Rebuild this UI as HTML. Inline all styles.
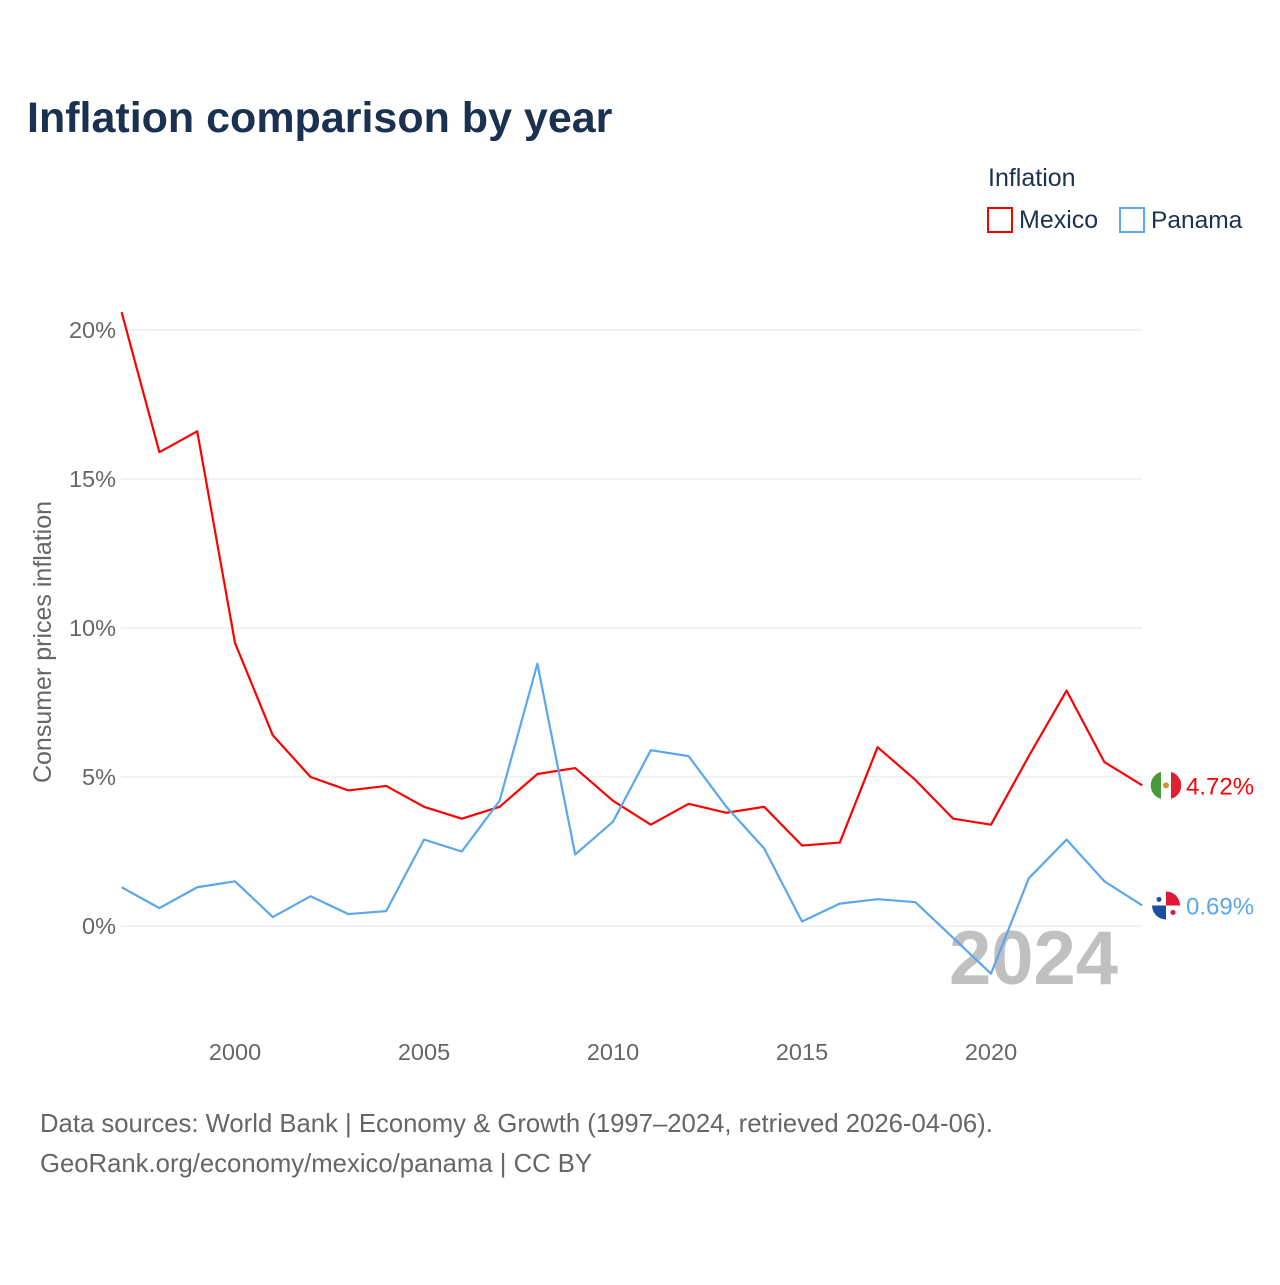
<!DOCTYPE html>
<html><head><meta charset="utf-8"><style>
body{margin:0;background:#fff;font-family:"Liberation Sans",sans-serif;}
svg text{font-family:"Liberation Sans",sans-serif;}
</style></head><body>
<svg width="1280" height="1280" viewBox="0 0 1280 1280" xmlns="http://www.w3.org/2000/svg" id="chart">
<rect width="1280" height="1280" fill="#fff"/>
<text x="27" y="132" font-size="43" font-weight="bold" fill="#1a3150">Inflation comparison by year</text>
<text x="988" y="186" font-size="25" fill="#1a3150">Inflation</text>
<g><rect x="988" y="208" width="24" height="24" fill="none" stroke="#f00" stroke-width="2"/><text x="1019" y="228" font-size="25" fill="#1a3150">Mexico</text></g>
<g><rect x="1120" y="208" width="24" height="24" fill="none" stroke="#5ba7ef" stroke-width="2"/><text x="1151" y="228" font-size="24.5" fill="#1a3150">Panama</text></g>
<g id="grid"></g>
<text x="949" y="984" font-size="76" font-weight="bold" fill="#c0c0c0">2024</text>
<g id="series"></g>
<text transform="translate(51,642) rotate(-90)" text-anchor="middle" font-size="25" fill="#666">Consumer prices inflation</text>
<text x="40" y="1132" font-size="25.7" fill="#666">Data sources: World Bank | Economy &amp; Growth (1997–2024, retrieved 2026-04-06).</text>
<text x="40" y="1172" font-size="25.7" fill="#666">GeoRank.org/economy/mexico/panama | CC BY</text>
</svg>
<script>
const years=[1997,1998,1999,2000,2001,2002,2003,2004,2005,2006,2007,2008,2009,2010,2011,2012,2013,2014,2015,2016,2017,2018,2019,2020,2021,2022,2023,2024];
const mexico=[20.6,15.9,16.6,9.5,6.4,5.0,4.55,4.7,4.0,3.6,4.0,5.1,5.3,4.2,3.4,4.1,3.8,4.0,2.7,2.8,6.0,4.9,3.6,3.4,5.7,7.9,5.5,4.72];
const panama=[1.3,0.6,1.3,1.5,0.3,1.0,0.4,0.5,2.9,2.5,4.2,8.8,2.4,3.5,5.9,5.7,4.0,2.6,0.15,0.75,0.9,0.8,-0.4,-1.6,1.6,2.9,1.5,0.69];
const yTicks=[0,5,10,15,20];
const xTicks=[2000,2005,2010,2015,2020];
const NS="http://www.w3.org/2000/svg";
const x=v=>235+(v-2000)*37.8;
const y=v=>926-v*29.8;
function mk(tag,attrs,parent){const e=document.createElementNS(NS,tag);for(const k in attrs)e.setAttribute(k,attrs[k]);parent.appendChild(e);return e;}
const grid=document.getElementById('grid');
yTicks.forEach(t=>{
 const l=mk('line',{x1:121,x2:1142,y1:y(t),y2:y(t),stroke:'#e6e6e6','stroke-width':1},grid);
 
 
 const tx=mk('text',{x:116,y:y(t)+8,'text-anchor':'end','font-size':23.5,fill:'#666'},grid);
 tx.textContent=t+'%';
 
 
});
xTicks.forEach(t=>{
 const tx=mk('text',{x:x(t),y:1060,'text-anchor':'middle','font-size':23.5,fill:'#666'},grid);
 tx.textContent=t;
 
 
});
const s=document.getElementById('series');
function line(vals,color,name){
 const p=mk('polyline',{points:vals.map((v,i)=>x(years[i])+','+y(v)).join(' '),fill:'none',stroke:color,'stroke-width':2.2,'stroke-linejoin':'round'},s);
 
 
 const last=vals[vals.length-1];
 const t=mk('text',{x:1186,y:y(last)+9,'font-size':24,fill:color},s);
 t.textContent=last.toFixed(2)+'%';
 
 
 return y(last);
}
const my=line(mexico,'#f00','mexico');
const py=line(panama,'#5ba7ef','panama');
const fm=mk('g',{},s);


mk('circle',{cx:1166,cy:my,r:14,fill:'#fff'},fm);
mk('path',{d:`M1161,${my-13.5} A14,14 0 0 0 1161,${my+13.5} Z`,fill:'#4a9a3a'},fm);
mk('path',{d:`M1171,${my-13.5} A14,14 0 0 1 1171,${my+13.5} Z`,fill:'#e02030'},fm);
mk('circle',{cx:1166,cy:my,r:3,fill:'#c8962a'},fm);
const fp=mk('g',{},s);


mk('circle',{cx:1166,cy:py,r:14,fill:'#fff'},fp);
mk('path',{d:`M1166,${py} L1166,${py-14} A14,14 0 0 1 1180,${py} Z`,fill:'#e0163a'},fp);
mk('path',{d:`M1166,${py} L1166,${py+14} A14,14 0 0 1 1152,${py} Z`,fill:'#1d4fa0'},fp);
mk('circle',{cx:1159,cy:py-6,r:2.5,fill:'#1d4fa0'},fp);
mk('circle',{cx:1173,cy:py+7,r:2.5,fill:'#e0163a'},fp);
</script>
</body></html>
